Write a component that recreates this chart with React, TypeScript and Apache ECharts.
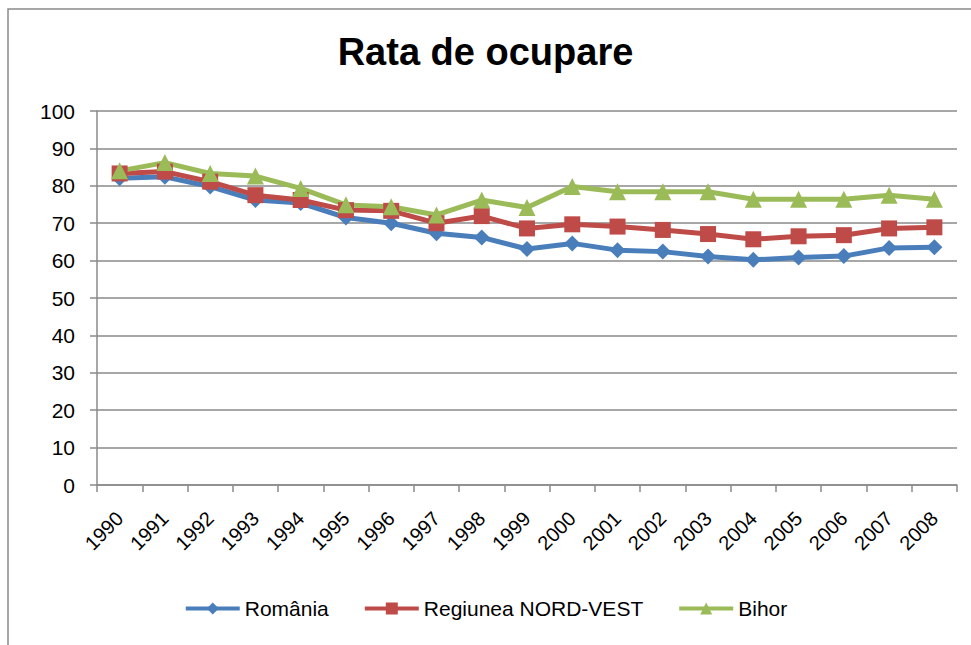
import React, { useEffect, useRef } from "react";
import * as echarts from "echarts";

const years = ["1990","1991","1992","1993","1994","1995","1996","1997","1998","1999","2000","2001","2002","2003","2004","2005","2006","2007","2008"];
const romania = [82.0, 82.4, 79.8, 76.2, 75.4, 71.5, 70.0, 67.3, 66.2, 63.1, 64.6, 62.8, 62.4, 61.1, 60.2, 60.8, 61.2, 63.4, 63.6];
const nordVest = [83.3, 83.8, 81.1, 77.5, 76.2, 73.5, 73.3, 70.0, 71.9, 68.6, 69.7, 69.1, 68.2, 67.1, 65.7, 66.5, 66.8, 68.6, 68.9];
const bihor = [84.0, 86.2, 83.3, 82.6, 79.3, 74.9, 74.4, 72.2, 76.2, 74.2, 79.8, 78.4, 78.4, 78.4, 76.4, 76.4, 76.4, 77.5, 76.4];
const seriesNames = ["România", "Regiunea NORD-VEST", "Bihor"];
const colors = ["#4A7EBB", "#BE4B48", "#9BBB59"];

export default function App() {
  const ref = useRef<HTMLDivElement>(null);
  useEffect(() => {
    if (!ref.current) return;
    const chart = echarts.init(ref.current, null, { renderer: "svg" });
    const font = "Liberation Sans, Arial, sans-serif";
    const mk = (name: string, data: number[], color: string, symbol: string, size: number) => ({
      name,
      type: "line",
      data,
      symbol,
      symbolSize: size,
      lineStyle: { color, width: 5 },
      itemStyle: { color },
      emphasis: { disabled: true },
    });
    chart.setOption({
      animation: false,
      backgroundColor: "#ffffff",
      title: {
        text: "Rata de ocupare",
        left: "center",
        top: 28,
        textStyle: { fontFamily: font, fontSize: 38, fontWeight: "bold", color: "#000" },
      },
      graphic: [
        {
          type: "rect",
          shape: { x: 8, y: 9, width: 1000, height: 700 },
          style: { fill: "none", stroke: "#8a8a8a", lineWidth: 1.5 },
          silent: true,
        },
      ],
      legend: {
        bottom: 21,
        left: "center",
        itemWidth: 54,
        itemHeight: 15,
        itemGap: 34,
        lineStyle: { width: 4 },
        textStyle: { fontFamily: font, fontSize: 21, color: "#000" },
        data: seriesNames,
      },
      grid: { left: 97, right: 14, top: 111, bottom: 160 },
      xAxis: {
        type: "category",
        data: years,
        boundaryGap: true,
        axisLine: { lineStyle: { color: "#8a8a8a", width: 1.5 } },
        axisTick: { show: true, interval: 0, length: 7, lineStyle: { color: "#8a8a8a", width: 1.5 } },
        axisLabel: {
          interval: 0,
          rotate: 45,
          margin: 30,
          fontFamily: font,
          fontSize: 20,
          color: "#000",
        },
      },
      yAxis: {
        type: "value",
        min: 0,
        max: 100,
        interval: 10,
        axisLine: { show: true, lineStyle: { color: "#8a8a8a", width: 1.5 } },
        axisTick: { show: true, length: 7, lineStyle: { color: "#8a8a8a", width: 1.5 } },
        splitLine: { lineStyle: { color: "#8a8a8a", width: 1.5 } },
        axisLabel: { margin: 22, fontFamily: font, fontSize: 21, color: "#000" },
      },
      series: [
        mk(seriesNames[0], romania, colors[0], "diamond", 16),
        mk(seriesNames[1], nordVest, colors[1], "rect", 16),
        mk(seriesNames[2], bihor, colors[2], "triangle", 17),
      ],
    });
    return () => chart.dispose();
  }, []);
  return (
    <div
      ref={ref}
      style={{ position: "fixed", left: 0, top: 0, width: 971, height: 645, background: "#fff" }}
    />
  );
}
